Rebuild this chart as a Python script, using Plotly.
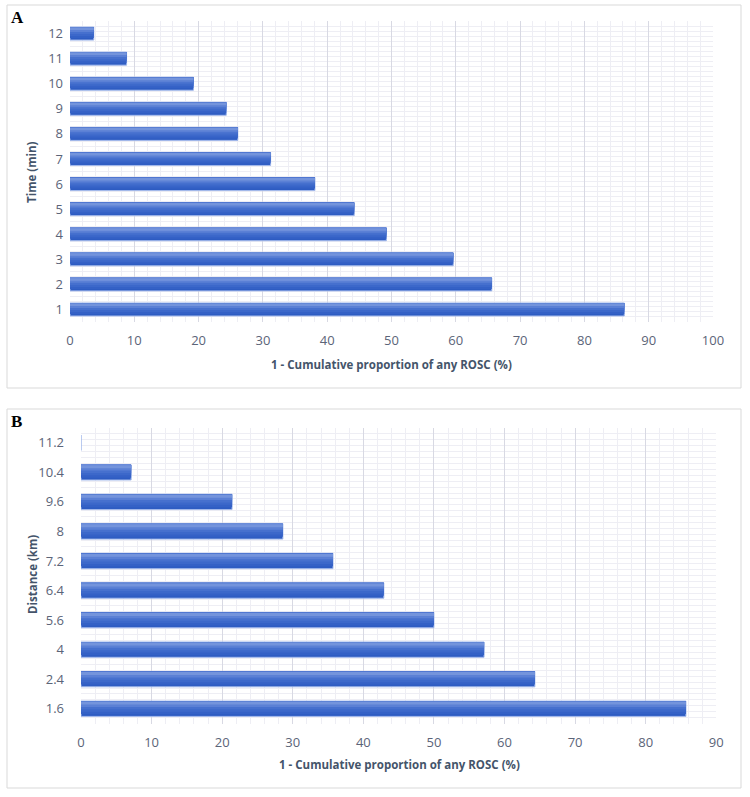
import plotly.graph_objects as go

# ---------------- data ----------------
time_labels = ["1", "2", "3", "4", "5", "6", "7", "8", "9", "10", "11", "12"]
time_values = [86.2, 65.6, 59.6, 49.2, 44.2, 38.1, 31.2, 26.1, 24.3, 19.2, 8.8, 3.7]

dist_labels = ["1.6", "2.4", "4", "5.6", "6.4", "7.2", "8", "9.6", "10.4", "11.2"]
dist_values = [85.7, 64.3, 57.1, 50.0, 42.9, 35.7, 28.6, 21.4, 7.1, 0.0]

x_title = "1 - Cumulative proportion of any ROSC (%)"

W, H = 750, 797
FONT = "Open Sans"
TICK_COLOR = "#5b6478"
TITLE_COLOR = "#44546a"
MAJOR_GRID = "#d8d9e3"
MINOR_GRID = "#eeeef4"


def px(x):
    return x / W


def py(y):
    return 1 - y / H


fig = go.Figure()

# gradient bar layers: (offset, width, color, line) relative to category centre
BAR_W = 0.52
layers = [
    (-BAR_W / 2, BAR_W, "#2e5cc2", dict(color="#a3b9eb", width=1)),
    (-BAR_W / 2 + 0.08, BAR_W - 0.08, "#3461c6", dict(width=0)),
    (-BAR_W / 2 + 0.16, BAR_W - 0.16, "#3c68ca", dict(width=0)),
    (-BAR_W / 2 + 0.24, BAR_W - 0.24, "#4670ce", dict(width=0)),
    (-BAR_W / 2 + 0.32, BAR_W - 0.33, "#5b80d5", dict(width=0)),
    (-BAR_W / 2 + 0.40, BAR_W - 0.42, "#7494dc", dict(width=0)),
]


def add_bars(values, xa, ya):
    ys = list(range(len(values)))
    for off, w, col, line in layers:
        fig.add_trace(go.Bar(
            x=values, y=ys, orientation="h", xaxis=xa, yaxis=ya,
            offset=off, width=w, marker=dict(color=col, line=line),
            showlegend=False, hoverinfo="x+y",
        ))


add_bars(time_values, "x", "y")
add_bars(dist_values, "x2", "y2")

# domains (pixel measured)
A_dom_x = [px(70), px(713)]
A_dom_y = [py(322), py(21)]
B_dom_x = [px(81), px(716.3)]
B_dom_y = [py(723.5), py(428)]


def xaxis_cfg(dom, anchor, rng, dtick):
    return dict(
        domain=dom, anchor=anchor, range=rng, dtick=dtick, tick0=0,
        showgrid=True, gridcolor=MAJOR_GRID, gridwidth=1,
        minor=dict(dtick=2, tick0=0, showgrid=True, gridcolor=MINOR_GRID, gridwidth=1),
        zeroline=False, showline=False, ticks="", automargin=False,
        tickfont=dict(family=FONT, size=13, color=TICK_COLOR),
        ticklabelstandoff=9, fixedrange=True,
    )


def yaxis_cfg(dom, anchor, labels):
    n = len(labels)
    return dict(
        domain=dom, anchor=anchor, range=[-0.5, n - 0.5],
        tickmode="array", tickvals=list(range(n)), ticktext=labels,
        showgrid=False, zeroline=False, showline=False, ticks="", automargin=False,
        minor=dict(tickmode="linear", tick0=-0.5, dtick=0.2, showgrid=True,
                   gridcolor=MINOR_GRID, gridwidth=1),
        tickfont=dict(family=FONT, size=13, color=TICK_COLOR),
        fixedrange=True,
    )


def ygrid_cfg(dom, anchor, overlay, n):
    return dict(
        domain=dom, anchor=anchor, overlaying=overlay, range=[-0.5, n - 0.5],
        tickmode="array", tickvals=[i - 0.5 for i in range(n + 1)],
        showticklabels=False, showgrid=True, gridcolor=MAJOR_GRID, gridwidth=1,
        zeroline=False, showline=False, ticks="", fixedrange=True,
        automargin=False, layer="below traces",
    )


fig.update_layout(
    width=W, height=H,
    margin=dict(l=0, r=0, t=0, b=0, autoexpand=False),
    paper_bgcolor="white", plot_bgcolor="rgba(0,0,0,0)",
    barmode="overlay", bargap=0.48,
    xaxis=xaxis_cfg(A_dom_x, "y", [0, 100], 10),
    yaxis=dict(**yaxis_cfg(A_dom_y, "x", time_labels), ticklabelstandoff=6),
    xaxis2=xaxis_cfg(B_dom_x, "y2", [0, 90], 10),
    yaxis2=dict(**yaxis_cfg(B_dom_y, "x2", dist_labels), ticklabelstandoff=16),
    yaxis3=ygrid_cfg(A_dom_y, "x", "y", len(time_labels)),
    yaxis4=ygrid_cfg(B_dom_y, "x2", "y2", len(dist_labels)),
    font=dict(family=FONT),
)

# panel borders
for y0, y1 in [(5, 388), (409, 788)]:
    fig.add_shape(type="rect", xref="paper", yref="paper",
                  x0=px(7), x1=px(741), y0=py(y1), y1=py(y0),
                  line=dict(color="#d9d9d9", width=1), layer="below")

ann_title = dict(family=FONT, size=11.5, color=TITLE_COLOR, weight="bold")
annotations = [
    dict(text="<b>A</b>", x=px(9), y=py(17), xanchor="left", yanchor="middle",
         font=dict(family="Liberation Serif", size=17, color="black")),
    dict(text="<b>B</b>", x=px(9), y=py(421), xanchor="left", yanchor="middle",
         font=dict(family="Liberation Serif", size=17, color="black")),
    dict(text="<b>" + x_title + "</b>", x=px(391.5), y=py(364), xanchor="center",
         yanchor="middle", font=ann_title),
    dict(text="<b>" + x_title + "</b>", x=px(399), y=py(764), xanchor="center",
         yanchor="middle", font=ann_title),
    dict(text="<b>Time (min)</b>", x=px(32), y=py(172), textangle=-90,
         xanchor="center", yanchor="middle", font=ann_title),
    dict(text="<b>Distance (km)</b>", x=px(32), y=py(575), textangle=-90,
         xanchor="center", yanchor="middle", font=ann_title),
]
for a in annotations:
    a.update(xref="paper", yref="paper", showarrow=False)
    fig.add_annotation(**a)

fig.write_html("out.html")
